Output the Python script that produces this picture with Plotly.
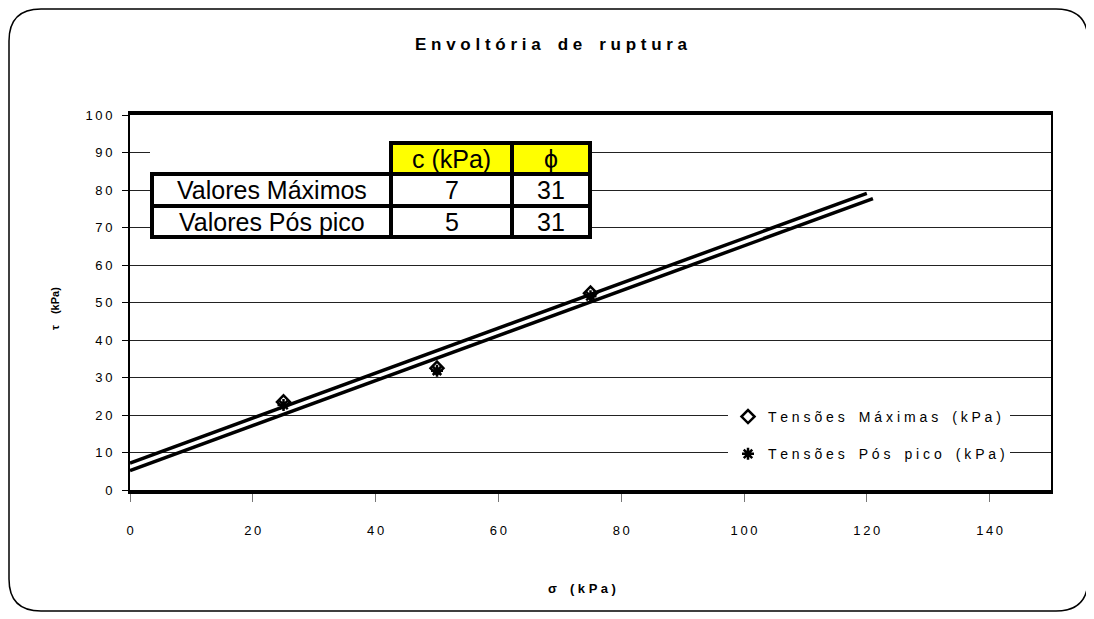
import plotly.graph_objects as go

# ---------------- data ----------------
sigma_pts = [25, 50, 75]
tau_max = [23.5, 32.5, 52.5]
tau_pos = [22.7, 31.8, 51.7]

env_max_sigma = [0, 120]
env_max_tau = [7.2, 79.1]
env_pos_sigma = [0, 121]
env_pos_tau = [5.2, 77.7]

x_ticks = [0, 20, 40, 60, 80, 100, 120, 140]
y_ticks = [0, 10, 20, 30, 40, 50, 60, 70, 80, 90, 100]

table_header = ["c (kPa)", "ϕ"]
table_rows = ["Valores Máximos", "Valores Pós pico"]
table_c = [7, 5]
table_phi = [31, 31]

series_names = ["Tensões Máximas (kPa)", "Tensões Pós pico (kPa)"]
title_text = "Envoltória de ruptura"

# ---------------- layout helpers ----------------
# the page body has an 8px margin: screen = figure + OFF
OFF = 8
W, H = 1094 - OFF, 619 - OFF
# plot area in screen pixels
SPL, SPR, SPT, SPB = 130, 1051, 115, 490
PL, PR, PT, PB = SPL - OFF, SPR - OFF, SPT - OFF, SPB - OFF
XR = (0, 150)
YR = (0, 100)
EMSP = "\u2003"


def sp(s, sep=" "):
    return sep.join(s)


def spw(s, sep=" ", wsep=EMSP):
    return wsep.join(sp(w, sep) for w in s.split(" "))


def px2x(px):  # screen px -> data x
    return (px - SPL) / (SPR - SPL) * (XR[1] - XR[0]) + XR[0]


def py2y(py):  # screen py -> data y
    return (SPB - py) / (SPB - SPT) * (YR[1] - YR[0]) + YR[0]


def ppx(px):  # screen px -> paper x
    return (px - SPL) / (SPR - SPL)


def ppy(py):  # screen py -> paper y
    return (SPB - py) / (SPB - SPT)


ARIAL = "Liberation Sans, Arial"
THIN = "\u2009"

fig = go.Figure()

# envelope lines
fig.add_trace(go.Scatter(x=env_max_sigma, y=env_max_tau, mode="lines",
                         line=dict(color="black", width=3.5), showlegend=False,
                         hoverinfo="skip"))
fig.add_trace(go.Scatter(x=env_pos_sigma, y=env_pos_tau, mode="lines",
                         line=dict(color="black", width=3.5), showlegend=False,
                         hoverinfo="skip"))

# points
fig.add_trace(go.Scatter(x=sigma_pts, y=tau_max, mode="markers", name=spw(series_names[0]),
                         legendgroup="a",
                         marker=dict(symbol="diamond-open", size=10, color="black",
                                     line=dict(color="black", width=2.5))))
fig.add_trace(go.Scatter(x=sigma_pts, y=tau_pos, mode="markers", name=spw(series_names[1]),
                         legendgroup="b",
                         marker=dict(symbol="asterisk-open", size=10, color="black",
                                     line=dict(color="black", width=2.5))))

shapes = []
# table (screen px)
tx0, tx1, tx2, tx3 = 152, 391, 512, 590
ty0, ty1, ty2, ty3 = 143, 174, 206, 237
shapes.append(dict(type="rect", xref="x", yref="y", x0=px2x(tx0 - 2), x1=px2x(tx3 + 2),
                   y0=py2y(ty0 - 2), y1=py2y(ty3 + 2), fillcolor="white",
                   line=dict(width=0), layer="above"))
shapes.append(dict(type="rect", xref="x", yref="y", x0=px2x(tx1), x1=px2x(tx3),
                   y0=py2y(ty0), y1=py2y(ty1), fillcolor="#FFFF00",
                   line=dict(color="black", width=4), layer="above"))
shapes.append(dict(type="rect", xref="x", yref="y", x0=px2x(tx0), x1=px2x(tx3),
                   y0=py2y(ty1), y1=py2y(ty3), fillcolor="white",
                   line=dict(color="black", width=4), layer="above"))
shapes.append(dict(type="line", xref="x", yref="y", x0=px2x(tx1), x1=px2x(tx1),
                   y0=py2y(ty1), y1=py2y(ty3), line=dict(color="black", width=4), layer="above"))
shapes.append(dict(type="line", xref="x", yref="y", x0=px2x(tx2), x1=px2x(tx2),
                   y0=py2y(ty0), y1=py2y(ty3), line=dict(color="black", width=4), layer="above"))
shapes.append(dict(type="line", xref="x", yref="y", x0=px2x(tx0), x1=px2x(tx3),
                   y0=py2y(ty2), y1=py2y(ty2), line=dict(color="black", width=4), layer="above"))

# outer rounded frame (screen px)
bx0, bx1, by0, by1, r = 9, 1088, 9, 611, 32
path = (f"M {ppx(bx0 + r)},{ppy(by0)} L {ppx(bx1 - r)},{ppy(by0)} "
        f"Q {ppx(bx1)},{ppy(by0)} {ppx(bx1)},{ppy(by0 + r)} "
        f"L {ppx(bx1)},{ppy(by1 - r)} Q {ppx(bx1)},{ppy(by1)} {ppx(bx1 - r)},{ppy(by1)} "
        f"L {ppx(bx0 + r)},{ppy(by1)} Q {ppx(bx0)},{ppy(by1)} {ppx(bx0)},{ppy(by1 - r)} "
        f"L {ppx(bx0)},{ppy(by0 + r)} Q {ppx(bx0)},{ppy(by0)} {ppx(bx0 + r)},{ppy(by0)} Z")
shapes.append(dict(type="path", xref="paper", yref="paper", path=path,
                   line=dict(color="black", width=1.5), layer="below"))

annotations = []
cx = [px2x((tx0 + tx1) / 2), px2x((tx1 + tx2) / 2), px2x((tx2 + tx3) / 2)]
hy = py2y((ty0 + ty1) / 2)
ry = [py2y((ty1 + ty2) / 2), py2y((ty2 + ty3) / 2)]
tfont = dict(family=ARIAL, size=25, color="black")
annotations.append(dict(x=cx[1], y=hy, xref="x", yref="y", text=table_header[0],
                        showarrow=False, font=tfont))
annotations.append(dict(x=cx[2], y=hy, xref="x", yref="y", text=table_header[1],
                        showarrow=False, font=tfont))
for i in range(2):
    annotations.append(dict(x=cx[0], y=ry[i], xref="x", yref="y", text=table_rows[i],
                            showarrow=False, font=tfont))
    annotations.append(dict(x=cx[1], y=ry[i], xref="x", yref="y", text=str(table_c[i]),
                            showarrow=False, font=tfont))
    annotations.append(dict(x=cx[2], y=ry[i], xref="x", yref="y", text=str(table_phi[i]),
                            showarrow=False, font=tfont))

# title
annotations.append(dict(x=ppx(551), y=ppy(45), xref="paper", yref="paper",
                        xanchor="center", yanchor="middle",
                        text="<b>" + spw(title_text) + "</b>",
                        showarrow=False, font=dict(family=ARIAL, size=17, color="black")))
# axis titles
annotations.append(dict(x=ppx(582), y=ppy(588), xref="paper", yref="paper",
                        xanchor="center", yanchor="middle",
                        text="<b>σ" + EMSP + "( k P a )</b>", showarrow=False,
                        font=dict(family=ARIAL, size=13, color="black")))
annotations.append(dict(x=ppx(55), y=ppy(309), xref="paper", yref="paper",
                        xanchor="center", yanchor="middle",
                        text="<b>τ" + EMSP + "(kPa)</b>", showarrow=False, textangle=-90,
                        font=dict(family=ARIAL, size=11, color="black")))

fig.update_layout(
    width=W, height=H,
    margin=dict(l=PL, r=W - PR, t=PT, b=H - PB, pad=0),
    paper_bgcolor="white", plot_bgcolor="white",
    shapes=shapes, annotations=annotations,
    showlegend=True,
    legend=dict(x=ppx(728), y=ppy(401), xanchor="left", yanchor="top",
                bgcolor="white", borderwidth=0, tracegroupgap=16,
                traceorder="grouped",
                font=dict(family=ARIAL, size=14, color="black")),
    xaxis=dict(range=list(XR), tickvals=x_ticks, ticktext=[sp(str(v), THIN) for v in x_ticks],
               ticks="outside", ticklen=8, tickcolor="#777", tickwidth=1,
               showline=True, linewidth=4, linecolor="black", mirror=True,
               showgrid=False, zeroline=False, ticklabelstandoff=17,
               tickfont=dict(family=ARIAL, size=13, color="black")),
    yaxis=dict(range=list(YR), tickvals=y_ticks, ticktext=[sp(str(v), THIN) for v in y_ticks],
               ticks="outside", ticklen=6, tickcolor="black", tickwidth=1,
               showline=True, linewidth=2, linecolor="black", mirror=True,
               showgrid=True, gridcolor="#222", gridwidth=1, zeroline=False,
               ticklabelstandoff=7,
               tickfont=dict(family=ARIAL, size=13, color="black")),
)

fig.write_html("out.html")
